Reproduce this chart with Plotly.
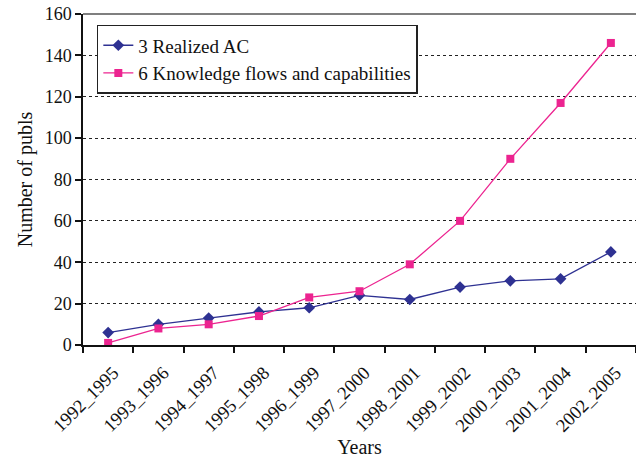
import plotly.graph_objects as go

categories = ["1992_1995", "1993_1996", "1994_1997", "1995_1998", "1996_1999",
              "1997_2000", "1998_2001", "1999_2002", "2000_2003", "2001_2004", "2002_2005"]
realized_ac = [6, 10, 13, 16, 18, 24, 22, 28, 31, 32, 45]
knowledge_flows = [1, 8, 10, 14, 23, 26, 39, 60, 90, 117, 146]
y_ticks = [0, 20, 40, 60, 80, 100, 120, 140, 160]

FONT = "Liberation Serif, Times New Roman, serif"

fig = go.Figure()
fig.add_trace(go.Scatter(
    x=categories, y=realized_ac, mode="lines+markers",
    name="3 Realized AC",
    line=dict(color="#2e3192", width=1.3),
    marker=dict(symbol="diamond", size=9, color="#2e3192"),
))
fig.add_trace(go.Scatter(
    x=categories, y=knowledge_flows, mode="lines+markers",
    name="6 Knowledge flows and capabilities",
    line=dict(color="#ec2490", width=1.3),
    marker=dict(symbol="square", size=8, color="#ec2490"),
))

fig.update_layout(
    width=636, height=462,
    margin=dict(l=83, r=0, t=14, b=117),
    paper_bgcolor="white", plot_bgcolor="white",
    font=dict(family=FONT, size=18, color="#111111"),
    showlegend=True,
    legend=dict(
        x=0.025, y=0.967, xanchor="left", yanchor="top",
        bordercolor="#222222", borderwidth=1.5, bgcolor="white",
        font=dict(family=FONT, size=19, color="#111111"),
        tracegroupgap=0, itemwidth=30,
    ),
    xaxis=dict(
        type="category", tickangle=-45, tickson="boundaries",
        ticks="outside", ticklen=6, tickcolor="#111111", tickwidth=1.5,
        showline=True, linecolor="#111111", linewidth=1.5,
        showgrid=False, mirror=False,
        ticklabelstandoff=8, ticklabelshift=5,
        title=dict(text="Years", font=dict(family=FONT, size=20), standoff=2),
        tickfont=dict(family=FONT, size=18.5),
        range=[-0.5, 10.5],
    ),
    yaxis=dict(
        range=[0, 160], tickvals=y_ticks,
        ticks="outside", ticklen=6, tickcolor="#111111", tickwidth=1.5,
        showline=True, linecolor="#111111", linewidth=1.5,
        showgrid=True, gridcolor="#222222", griddash="dot", gridwidth=1,
        zeroline=False, ticklabeloverflow="allow",
        title=dict(text="Number of publs", font=dict(family=FONT, size=20), standoff=7),
        tickfont=dict(family=FONT, size=18),
    ),
)
# top border of plot area
fig.add_shape(type="line", xref="paper", yref="paper", x0=0, x1=1, y0=1, y1=1,
              line=dict(color="#555555", width=1.5))

# remove the browser's default 8px body margin so the figure fills the window
fig.write_html("out.html", config={"displayModeBar": False},
               post_script="document.body.style.margin='0px';")
